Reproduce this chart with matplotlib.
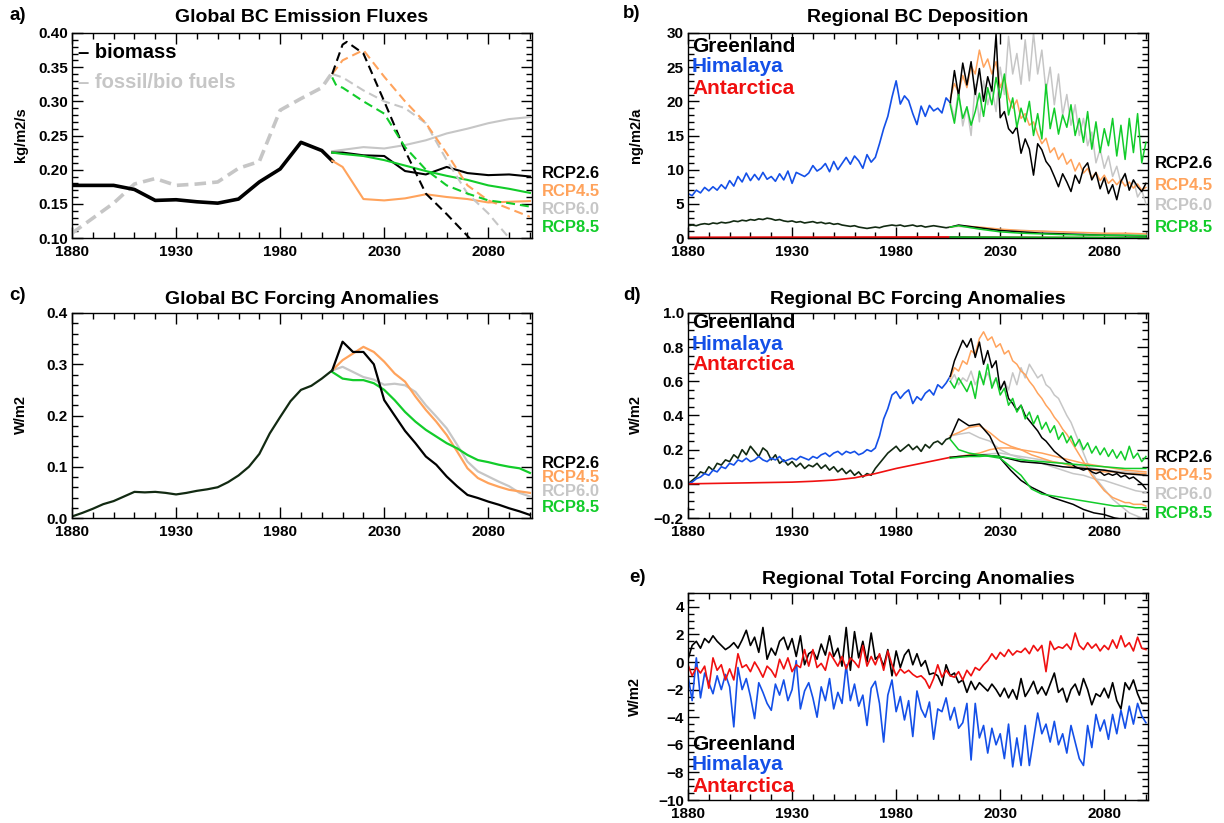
import numpy as np
import matplotlib
matplotlib.use("Agg")
import matplotlib.pyplot as plt
from matplotlib.ticker import MultipleLocator, FuncFormatter

plt.rcParams["font.family"] = ["Liberation Sans", "DejaVu Sans"]
plt.rcParams["font.weight"] = "bold"

W, H = 1224, 823

# ---------------- colours ----------------
C26, C45, C60, C85 = "black", "#ffa35c", "#c6c6c6", "#12cc2a"
HIST = "#122a12"
BLUE, RED = "#1450e8", "#f01010"
RCPS = ["RCP2.6", "RCP4.5", "RCP6.0", "RCP8.5"]
RCP_COL = [C26, C45, C60, C85]

# ---------------- a) global emission fluxes ----------------
a_hist_years = [1880, 1890, 1900, 1910, 1920, 1930, 1940, 1950, 1960, 1970, 1980, 1990, 2000, 2005]
a_hist_solid = [0.177, 0.177, 0.177, 0.171, 0.155, 0.156, 0.153, 0.151, 0.157, 0.182, 0.201, 0.240, 0.228, 0.213]
a_hist_dash = [0.107, 0.129, 0.151, 0.179, 0.187, 0.177, 0.179, 0.182, 0.202, 0.212, 0.287, 0.304, 0.320, 0.342]

a_fut_years = [2005, 2010, 2020, 2030, 2040, 2050, 2060, 2070, 2080, 2090, 2100]
a_sol_26 = [0.225, 0.225, 0.221, 0.220, 0.198, 0.193, 0.204, 0.195, 0.192, 0.193, 0.190]
a_sol_45 = [0.213, 0.204, 0.157, 0.155, 0.158, 0.164, 0.160, 0.157, 0.152, 0.153, 0.154]
a_sol_60 = [0.227, 0.229, 0.233, 0.231, 0.236, 0.243, 0.253, 0.260, 0.268, 0.274, 0.277]
a_sol_85 = [0.225, 0.223, 0.220, 0.214, 0.206, 0.198, 0.191, 0.185, 0.177, 0.172, 0.166]

a_dash26_years = [2005, 2010, 2012, 2020, 2030, 2040, 2050, 2060, 2070, 2080]
a_dash_26 = [0.340, 0.383, 0.387, 0.370, 0.300, 0.228, 0.165, 0.135, 0.103, 0.070]
a_dash_45 = [0.340, 0.360, 0.375, 0.336, 0.300, 0.268, 0.224, 0.177, 0.155, 0.143, 0.131]
a_dash_60 = [0.340, 0.335, 0.316, 0.300, 0.290, 0.268, 0.214, 0.165, 0.136, 0.100, 0.060]
a_dash85_years = [2005, 2007, 2010, 2020, 2030, 2040, 2050, 2060, 2070, 2080, 2090, 2100]
a_dash_85 = [0.335, 0.323, 0.320, 0.300, 0.282, 0.233, 0.200, 0.177, 0.165, 0.155, 0.151, 0.146]

# ---------------- b) regional deposition (ng/m2/a) ----------------
yr_hist2 = np.arange(1880, 2007, 2)
yr_fut2 = np.arange(2006, 2101, 2)
yr_fut10 = [2006, 2010, 2020, 2030, 2040, 2050, 2060, 2070, 2080, 2090, 2100]

b_him_hist = [6.5, 6.2, 7.0, 6.6, 7.4, 6.9, 7.5, 7.0, 7.8, 7.2,
              8.4, 7.6, 9.0, 8.2, 9.5, 8.4, 9.3, 8.5, 9.6, 8.6,
              9.0, 8.3, 9.4, 8.5, 9.8, 8.0, 9.6, 9.3, 9.0, 9.5,
              10.6, 9.8, 10.2, 10.9, 9.7, 11.2, 10.0, 10.9, 11.8, 10.8,
              12.0, 11.3, 10.2, 12.2, 11.1, 11.8, 13.8, 16.0, 17.8, 20.6,
              23.0, 19.6, 20.8, 20.1, 18.2, 16.6, 19.3, 17.8, 19.4, 18.6,
              19.0, 18.3, 20.5, 19.8]
b_grl_hist = [1.8, 1.9, 1.8, 2.0, 2.1, 2.0, 2.2, 2.1, 2.3, 2.2,
              2.3, 2.5, 2.4, 2.6, 2.5, 2.7, 2.6, 2.8, 2.7, 2.9,
              2.8, 2.6, 2.7, 2.5, 2.4, 2.5, 2.3, 2.4, 2.2, 2.3,
              2.4, 2.2, 2.3, 2.1, 2.2, 2.0, 2.1, 1.9, 1.8, 1.7,
              1.8, 1.6, 1.5, 1.4, 1.5, 1.6, 1.5, 1.7, 1.8, 1.9,
              1.8, 1.9, 1.7, 1.8, 1.9, 1.7, 1.8, 1.6, 1.7, 1.8,
              1.7, 1.6, 1.5, 1.6]
b_ant_hist_years = [1880, 1900, 1920, 1940, 1960, 1980, 2000, 2006]
b_ant_hist = [0.08, 0.09, 0.10, 0.10, 0.11, 0.12, 0.13, 0.13]

b_him_26 = [19.8, 24.5, 20.8, 25.6, 22.4, 25.8, 21.0, 24.8, 20.0, 23.6,
            21.5, 29.8, 17.6, 18.5, 16.0, 15.3, 16.3, 12.4, 14.5, 13.0,
            9.2, 13.8, 12.9, 11.2, 10.4, 9.0, 7.5, 9.4, 8.2, 6.8,
            9.2, 8.0, 10.2, 11.0, 8.5, 9.6, 7.2, 8.8, 6.5, 7.8,
            5.6, 8.3, 9.4, 7.0, 8.5, 7.5, 6.8, 8.0]
b_him_45 = [20.5, 22.6, 21.3, 23.8, 22.0, 25.2, 24.0, 27.5, 25.0, 26.2,
            24.0, 25.8, 22.0, 23.6, 20.5, 19.0, 20.2, 17.5, 18.2, 16.5,
            17.0, 15.2, 13.8, 14.6, 12.5, 13.2, 11.5, 12.4, 10.8, 11.5,
            9.8, 11.0, 9.5, 10.2, 8.8, 9.6, 8.4, 9.2, 8.0, 8.6,
            7.8, 8.5, 7.6, 8.2, 7.3, 7.9, 7.0, 7.4]
b_him_60 = [20.0, 17.5, 21.6, 16.4, 19.2, 15.0, 22.5, 17.0, 23.0, 19.5,
            22.0, 18.5, 25.0, 21.0, 29.5, 24.0, 27.0, 22.5, 29.0, 23.0,
            30.0, 24.0, 27.5, 21.5, 25.0, 19.5, 24.0, 18.0, 21.0, 16.5,
            19.5, 15.0, 17.5, 13.5, 15.5, 11.0, 13.0, 10.2, 12.0, 9.0,
            10.5, 8.0, 9.5, 7.0, 8.5, 6.0, 7.0, 5.0]
b_him_85 = [19.5, 16.8, 21.0, 17.5, 19.2, 16.5, 18.5, 21.2, 17.8, 22.0,
            19.5, 23.5, 20.5, 24.0, 18.0, 20.5, 16.2, 19.0, 17.0, 20.0,
            15.0, 18.2, 14.5, 22.5, 16.0, 19.0, 15.2, 18.0, 16.2, 19.5,
            15.0, 17.5, 14.0, 18.5, 13.0, 17.0, 12.5, 16.0, 13.5, 17.5,
            12.0, 16.5, 11.5, 17.5, 12.5, 18.2, 11.0, 14.0]

b_grl_26 = [1.6, 1.9, 1.5, 1.1, 0.9, 0.7, 0.6, 0.5, 0.4, 0.35, 0.3]
b_grl_45 = [1.6, 1.8, 1.6, 1.3, 1.1, 1.0, 0.9, 0.8, 0.7, 0.7, 0.6]
b_grl_60 = [1.6, 1.7, 1.4, 1.2, 1.1, 1.0, 0.8, 0.7, 0.6, 0.5, 0.5]
b_grl_85 = [1.6, 1.8, 1.3, 0.9, 0.7, 0.6, 0.5, 0.45, 0.4, 0.4, 0.35]
b_ant_26 = [0.13, 0.12, 0.10, 0.09, 0.08, 0.07, 0.06, 0.06, 0.05, 0.05, 0.04]
b_ant_45 = [0.13, 0.13, 0.12, 0.11, 0.10, 0.09, 0.08, 0.07, 0.07, 0.06, 0.06]
b_ant_60 = [0.13, 0.12, 0.12, 0.11, 0.10, 0.09, 0.08, 0.07, 0.06, 0.06, 0.05]
b_ant_85 = [0.13, 0.12, 0.11, 0.10, 0.09, 0.08, 0.08, 0.07, 0.07, 0.06, 0.06]

# ---------------- c) global forcing (W/m2) ----------------
c_hist_years = np.arange(1880, 2006, 5)
c_hist = [0.003, 0.010, 0.018, 0.027, 0.033, 0.042, 0.051, 0.050, 0.051, 0.049,
          0.046, 0.049, 0.053, 0.056, 0.060, 0.070, 0.083, 0.100, 0.125, 0.165,
          0.197, 0.228, 0.250, 0.258, 0.272, 0.288]
c_fut_years = np.arange(2005, 2101, 5)
c_26 = [0.288, 0.344, 0.324, 0.324, 0.300, 0.230, 0.200, 0.170, 0.146, 0.120,
        0.104, 0.081, 0.062, 0.045, 0.039, 0.032, 0.026, 0.019, 0.013, 0.006]
c_45 = [0.288, 0.308, 0.321, 0.334, 0.324, 0.305, 0.282, 0.266, 0.237, 0.211,
        0.188, 0.162, 0.130, 0.097, 0.078, 0.068, 0.061, 0.055, 0.052, 0.049]
c_60 = [0.288, 0.295, 0.285, 0.275, 0.270, 0.260, 0.262, 0.259, 0.246, 0.220,
        0.198, 0.175, 0.143, 0.110, 0.091, 0.081, 0.071, 0.062, 0.049, 0.042]
c_85 = [0.285, 0.272, 0.269, 0.269, 0.263, 0.250, 0.230, 0.207, 0.188, 0.172,
        0.159, 0.146, 0.136, 0.123, 0.113, 0.109, 0.104, 0.100, 0.097, 0.088]

# ---------------- d) regional forcing (W/m2) ----------------
d_him_hist = [0.00, 0.01, 0.03, 0.04, 0.06, 0.05, 0.08, 0.07, 0.10, 0.09,
              0.12, 0.11, 0.14, 0.13, 0.15, 0.13, 0.14, 0.16, 0.14, 0.13,
              0.15, 0.14, 0.16, 0.13, 0.14, 0.15, 0.14, 0.16, 0.15, 0.14,
              0.16, 0.15, 0.17, 0.18, 0.16, 0.18, 0.19, 0.17, 0.19, 0.18,
              0.19, 0.17, 0.18, 0.20, 0.19, 0.21, 0.28, 0.38, 0.44, 0.52,
              0.54, 0.50, 0.53, 0.55, 0.47, 0.51, 0.49, 0.53, 0.55, 0.52,
              0.58, 0.56, 0.59, 0.63]
d_grl_hist = [0.00, 0.02, 0.04, 0.07, 0.06, 0.10, 0.08, 0.12, 0.11, 0.14,
              0.13, 0.17, 0.15, 0.20, 0.17, 0.22, 0.19, 0.16, 0.21, 0.19,
              0.14, 0.17, 0.12, 0.14, 0.11, 0.13, 0.10, 0.12, 0.09, 0.11,
              0.10, 0.12, 0.09, 0.11, 0.08, 0.10, 0.07, 0.09, 0.06, 0.08,
              0.05, 0.07, 0.04, 0.06, 0.05, 0.09, 0.12, 0.15, 0.18, 0.20,
              0.22, 0.19, 0.21, 0.23, 0.20, 0.22, 0.19, 0.23, 0.21, 0.24,
              0.25, 0.23, 0.26, 0.27]
d_ant_hist_years = [1880, 1890, 1900, 1910, 1920, 1930, 1940, 1950, 1960, 1970, 1980, 1990, 2000, 2006]
d_ant_hist = [0.0, 0.002, 0.004, 0.006, 0.008, 0.010, 0.015, 0.022, 0.035, 0.060, 0.090, 0.115, 0.140, 0.155]

d_him_26 = [0.63, 0.72, 0.78, 0.84, 0.80, 0.85, 0.74, 0.83, 0.70, 0.78,
            0.68, 0.72, 0.55, 0.60, 0.50, 0.47, 0.43, 0.46, 0.40, 0.37,
            0.34, 0.31, 0.27, 0.25, 0.22, 0.19, 0.17, 0.15, 0.13, 0.12,
            0.10, 0.09, 0.08, 0.09, 0.07, 0.06, 0.07, 0.05, 0.06, 0.05,
            0.06, 0.04, 0.05, 0.03, 0.04, 0.02, 0.00, -0.03]
d_him_45 = [0.62, 0.68, 0.66, 0.72, 0.70, 0.78, 0.76, 0.85, 0.89, 0.84,
            0.86, 0.80, 0.82, 0.76, 0.78, 0.72, 0.70, 0.66, 0.64, 0.60,
            0.57, 0.53, 0.50, 0.46, 0.43, 0.39, 0.36, 0.32, 0.29, 0.25,
            0.21, 0.17, 0.13, 0.09, 0.05, 0.02, -0.01, -0.04, -0.06, -0.08,
            -0.09, -0.10, -0.11, -0.11, -0.12, -0.12, -0.12, -0.13]
d_him_60 = [0.60, 0.64, 0.58, 0.62, 0.60, 0.66, 0.58, 0.63, 0.60, 0.65,
            0.58, 0.62, 0.56, 0.60, 0.55, 0.65, 0.58, 0.68, 0.62, 0.70,
            0.66, 0.62, 0.64, 0.58, 0.56, 0.52, 0.50, 0.45, 0.40, 0.36,
            0.30, 0.24, 0.18, 0.12, 0.07, 0.03, 0.00, -0.03, -0.06, -0.09,
            -0.11, -0.13, -0.15, -0.17, -0.18, -0.19, -0.20, -0.21]
d_him_85 = [0.60, 0.56, 0.62, 0.58, 0.54, 0.60, 0.50, 0.66, 0.58, 0.70,
            0.56, 0.62, 0.52, 0.56, 0.46, 0.50, 0.42, 0.46, 0.38, 0.42,
            0.35, 0.40, 0.32, 0.36, 0.30, 0.34, 0.26, 0.30, 0.24, 0.28,
            0.22, 0.26, 0.20, 0.24, 0.18, 0.22, 0.17, 0.21, 0.16, 0.20,
            0.15, 0.19, 0.14, 0.22, 0.15, 0.18, 0.13, 0.16]

yr_fut5 = [2006] + list(range(2010, 2101, 5))
d_grl_26 = [0.27, 0.38, 0.34, 0.35, 0.28, 0.15, 0.08, 0.02, -0.02, -0.05,
            -0.08, -0.10, -0.12, -0.15, -0.17, -0.18, -0.20, -0.21, -0.22, -0.23]
d_grl_45 = [0.28, 0.30, 0.33, 0.34, 0.30, 0.25, 0.22, 0.20, 0.17, 0.15,
            0.13, 0.12, 0.10, 0.09, 0.08, 0.07, 0.07, 0.06, 0.06, 0.06]
d_grl_60 = [0.28, 0.29, 0.30, 0.27, 0.25, 0.20, 0.17, 0.15, 0.13, 0.12,
            0.10, 0.08, 0.06, 0.05, 0.03, 0.02, 0.00, -0.02, -0.04, -0.05]
d_grl_85 = [0.26, 0.20, 0.18, 0.17, 0.16, 0.15, 0.10, 0.05, -0.03, -0.06,
            -0.07, -0.08, -0.09, -0.10, -0.11, -0.12, -0.13, -0.13, -0.14, -0.14]
d_ant_26 = [0.155, 0.16, 0.165, 0.17, 0.165, 0.16, 0.145, 0.13, 0.125, 0.12,
            0.11, 0.10, 0.095, 0.09, 0.085, 0.08, 0.07, 0.06, 0.055, 0.05]
d_ant_45 = [0.155, 0.16, 0.17, 0.18, 0.20, 0.21, 0.21, 0.20, 0.19, 0.18,
            0.165, 0.15, 0.135, 0.12, 0.11, 0.10, 0.09, 0.08, 0.075, 0.07]
d_ant_60 = [0.155, 0.16, 0.165, 0.17, 0.175, 0.18, 0.17, 0.16, 0.15, 0.14,
            0.13, 0.12, 0.11, 0.10, 0.09, 0.08, 0.075, 0.07, 0.065, 0.06]
d_ant_85 = [0.15, 0.155, 0.16, 0.16, 0.165, 0.16, 0.15, 0.14, 0.135, 0.13,
            0.125, 0.12, 0.115, 0.11, 0.105, 0.10, 0.095, 0.09, 0.09, 0.09]

# ---------------- e) regional total forcing (W/m2) ----------------
yr_e = np.arange(1880, 2101, 2)
e_grl = [0.2, 1.2, 1.5, 1.0, 1.7, 1.4, 1.9, 1.5, 1.2, 0.9,
         1.1, 1.4, 1.0, 1.6, 2.3, 1.2, 1.8, 0.7, 2.5, 0.2,
         1.0, 0.5, 1.5, 1.8, 0.9, 1.7, 0.4, 1.9, -0.2, 0.6,
         0.8, 0.2, 1.3, 0.5, 1.9, 0.4, 1.0, -0.3, 2.5, -0.6,
         2.2, 0.3, 1.5, 0.0, 2.1, 0.2, 0.5, -0.3, 0.9, -1.0,
         0.8, -0.4, 0.5, 0.9, -0.2, 0.6, -0.3, 0.1, -0.9, -0.8,
         -1.0, -1.7, -0.2, -1.0, -0.8, -1.5, -1.3, -2.2, -1.4, -2.0,
         -1.5, -1.8, -2.1, -1.6, -2.0, -2.5, -1.9, -2.6, -2.0, -2.7,
         -1.2, -2.5, -2.0, -1.4, -2.3, -1.8, -2.4, -1.6, -0.8, -2.2,
         -1.9, -2.9, -2.0, -1.6, -2.4, -1.2, -2.0, -3.1, -2.3, -2.5,
         -1.9, -2.6, -1.5, -2.8, -3.4, -1.5, -2.0, -1.3, -2.3, -3.0,
         -3.0]
e_him = [-1.0, -2.8, 0.3, -2.6, -0.8, -1.5, -2.3, -1.0, -2.0, -0.9,
         -1.8, -4.7, -0.4, -2.0, -1.2, -2.5, -4.1, -1.5, -2.2, -3.0,
         -3.5, -1.6, -2.4, -1.3, -2.8, -2.0, 0.1, -3.4, -2.1, -1.5,
         -2.6, -4.0, -1.8, -2.8, -1.2, -3.4, -2.2, -3.0, -0.2, -2.8,
         -1.6, -3.2, -2.4, -4.6, -1.9, -1.4, -3.0, -5.8, -2.4, -1.3,
         -3.6, -2.5, -4.2, -2.8, -5.4, -2.1, -3.4, -4.0, -2.9, -5.6,
         -3.4, -3.6, -2.6, -4.2, -3.3, -4.8, -4.4, -3.0, -7.1, -3.0,
         -5.5, -4.6, -6.6, -4.8, -6.0, -5.2, -7.0, -4.5, -7.6, -5.5,
         -7.5, -4.6, -7.5, -5.6, -3.7, -5.2, -4.5, -5.8, -4.3, -6.0,
         -5.2, -6.6, -4.6, -5.8, -7.0, -7.5, -4.6, -6.2, -3.8, -5.0,
         -4.2, -5.6, -3.8, -5.2, -3.5, -4.8, -3.2, -4.5, -3.0, -3.9,
         -4.4]
e_ant = [-0.2, -1.0, -0.4, -0.8, -0.3, -1.9, 0.3, -0.6, -0.2, -1.3,
         -0.5, -1.3, 0.6, -0.4, -0.2, -0.7, 0.0, -0.5, -1.1, -0.3,
         -0.6, -1.1, 0.2, -0.5, 0.3, -0.7, -0.2, -0.4, 0.9, -0.3,
         0.9, -0.4, -0.1, -0.6, 0.7, 0.2, -0.3, 0.4, -0.5, 0.3,
         0.0, -0.4, 1.2, -0.3, 0.4, -0.2, 0.6, -0.6, 0.8, -0.2,
         -1.0, -0.5, -0.8, -0.6, -0.9, -1.1, -1.0, -1.3, -1.9, -1.2,
         -0.2, -1.1, -0.6, -1.0, -1.1, -0.7, -1.3, -0.6, -1.0, -0.4,
         -0.6, -0.2, 0.1, 0.6, 0.2, 0.7, 0.4, 0.9, 0.5, 0.8,
         0.7, 1.0, 0.6, 1.2, 0.8, 1.2, -0.7, 1.5, 0.9, 1.1,
         1.0, 1.3, 0.9, 2.1, 1.2, 0.9, 1.4, 1.0, 1.3, 0.8,
         1.2, 0.9, 1.6, 1.0, 1.9, 1.1, 1.4, 0.8, 1.8, 1.0,
         0.9]


fig = plt.figure(figsize=(W / 100, H / 100), dpi=100)


def px_rect(left, top, right, bottom):
    return [left / W, 1 - bottom / H, (right - left) / W, (bottom - top) / H]


def ftxt(x, y, s, **kw):
    kw.setdefault("fontweight", "bold")
    fig.text(x / W, 1 - y / H, s, **kw)


def minus_fmt(fmt):
    return FuncFormatter(lambda v, p: (fmt % v).replace("-", "\u2212"))


def frame(rect, ylim, ymaj, ymin, fmt):
    ax = fig.add_axes(px_rect(*rect))
    ax.set_xlim(1880, 2101)
    ax.set_ylim(*ylim)
    ax.set_xticks([1880, 1930, 1980, 2030, 2080])
    ax.xaxis.set_minor_locator(MultipleLocator(10))
    ax.yaxis.set_major_locator(MultipleLocator(ymaj))
    ax.yaxis.set_minor_locator(MultipleLocator(ymin))
    ax.yaxis.set_major_formatter(minus_fmt(fmt))
    ax.tick_params(which="both", direction="in", top=True, right=True,
                   labelsize=11, width=1, pad=3)
    ax.tick_params(axis="x", which="major", pad=5)
    ax.tick_params(which="major", length=8)
    ax.tick_params(which="minor", length=4)
    for lab in ax.get_xticklabels() + ax.get_yticklabels():
        lab.set_fontweight("bold")
    for s in ax.spines.values():
        s.set_linewidth(1)
    return ax


def rcp_labels(x, ys):
    for name, col, y in zip(RCPS, RCP_COL, ys):
        ftxt(x, y, name, color=col, fontsize=12, ha="left", va="center")


def region_labels(x, ys):
    for name, col, y in zip(["Greenland", "Himalaya", "Antarctica"], ["black", BLUE, RED], ys):
        ftxt(x, y, name, color=col, fontsize=15, ha="left", va="center")


LEFT = (72, 532)
RIGHT = (688, 1148)

# ---- a ----
ax = frame((LEFT[0], 33, LEFT[1], 238), (0.10, 0.40), 0.05, 0.01, "%.2f")
ax.plot(a_hist_years, a_hist_dash, color=C60, lw=2.6, dashes=(3.2, 1.7))
ax.plot(a_hist_years, a_hist_solid, color="black", lw=2.6)
for vals, col in zip([a_sol_60, a_sol_45, a_sol_26, a_sol_85], [C60, C45, C26, C85]):
    ax.plot(a_fut_years, vals, color=col, lw=1.5)
ax.plot(a_fut_years, a_dash_60, color=C60, lw=1.5, dashes=(4.3, 2.4))
ax.plot(a_fut_years, a_dash_45, color=C45, lw=1.5, dashes=(4.3, 2.4))
ax.plot(a_dash26_years, a_dash_26, color=C26, lw=1.5, dashes=(4.3, 2.4))
ax.plot(a_dash85_years, a_dash_85, color=C85, lw=1.5, dashes=(4.3, 2.4))
ftxt(78, 53, "\u2013 biomass", color="black", fontsize=14.5, va="center")
ftxt(78, 82, "\u2013 fossil/bio fuels", color=C60, fontsize=14.5, va="center")
ftxt(302, 18, "Global BC Emission Fluxes", fontsize=14, ha="center", va="center")
ftxt(9, 15, "a)", fontsize=13.5, va="center")
ftxt(21, 135, "kg/m2/s", fontsize=10.5, rotation=90, ha="center", va="center")
rcp_labels(542, [174, 192, 209, 227])

# ---- b ----
ax = frame((RIGHT[0], 33, RIGHT[1], 238), (0, 30), 5, 1, "%d")
ax.plot(b_ant_hist_years, b_ant_hist, color=RED, lw=1.5)
ax.plot(yr_hist2, b_grl_hist, color=HIST, lw=1.2)
ax.plot(yr_hist2, b_him_hist, color=BLUE, lw=1.2)
for key, col in [("60", C60), ("45", C45), ("26", C26), ("85", C85)]:
    ax.plot(yr_fut2, globals()["b_him_" + key], color=col, lw=1.1)
    ax.plot(yr_fut10, globals()["b_grl_" + key], color=col, lw=1.1)
    ax.plot(yr_fut10, globals()["b_ant_" + key], color=col, lw=1.1)
region_labels(692, [46, 67, 88])
ftxt(918, 18, "Regional BC Deposition", fontsize=14, ha="center", va="center")
ftxt(623, 14, "b)", fontsize=13.5, va="center")
ftxt(636, 135, "ng/m2/a", fontsize=10.5, rotation=90, ha="center", va="center")
rcp_labels(1155, [164, 185, 206, 227])

# ---- c ----
ax = frame((LEFT[0], 313, LEFT[1], 518), (0, 0.4), 0.1, 0.02, "%.1f")
for vals, col in zip([c_60, c_45, c_85, c_26], [C60, C45, C85, C26]):
    ax.plot(c_fut_years, vals, color=col, lw=1.6)
ax.plot(c_hist_years, c_hist, color=HIST, lw=1.6)
ftxt(302, 300, "Global BC Forcing Anomalies", fontsize=14, ha="center", va="center")
ftxt(9, 295, "c)", fontsize=13.5, va="center")
ftxt(21, 415, "W/m2", fontsize=10.5, rotation=90, ha="center", va="center")
rcp_labels(542, [463, 477, 492, 508])

# ---- d ----
ax = frame((RIGHT[0], 313, RIGHT[1], 518), (-0.2, 1.0), 0.2, 0.05, "%.1f")
ax.plot(yr_hist2, d_grl_hist, color=HIST, lw=1.2)
ax.plot(yr_hist2, d_him_hist, color=BLUE, lw=1.2)
ax.plot(d_ant_hist_years, d_ant_hist, color=RED, lw=1.2)
for key, col in [("60", C60), ("45", C45), ("26", C26), ("85", C85)]:
    ax.plot(yr_fut2, globals()["d_him_" + key], color=col, lw=1.1)
    ax.plot(yr_fut5, globals()["d_grl_" + key], color=col, lw=1.1)
    ax.plot(yr_fut5, globals()["d_ant_" + key], color=col, lw=1.1)
region_labels(692, [323, 345, 365])
ftxt(918, 300, "Regional BC Forcing Anomalies", fontsize=14, ha="center", va="center")
ftxt(623, 295, "d)", fontsize=13.5, va="center")
ftxt(636, 415, "W/m2", fontsize=10.5, rotation=90, ha="center", va="center")
rcp_labels(1155, [457, 476, 494, 513])

# ---- e ----
ax = frame((RIGHT[0], 593, RIGHT[1], 800), (-10, 5), 2, 0.5, "%d")
ax.plot(yr_e, e_him, color=BLUE, lw=1.2)
ax.plot(yr_e, e_grl, color="black", lw=1.2)
ax.plot(yr_e, e_ant, color=RED, lw=1.2)
region_labels(692, [744, 765, 786])
ftxt(918, 580, "Regional Total Forcing Anomalies", fontsize=14, ha="center", va="center")
ftxt(629, 577, "e)", fontsize=13.5, va="center")
ftxt(635, 696, "W/m2", fontsize=10.5, rotation=90, ha="center", va="center")

fig.savefig("out.png", dpi=100)
